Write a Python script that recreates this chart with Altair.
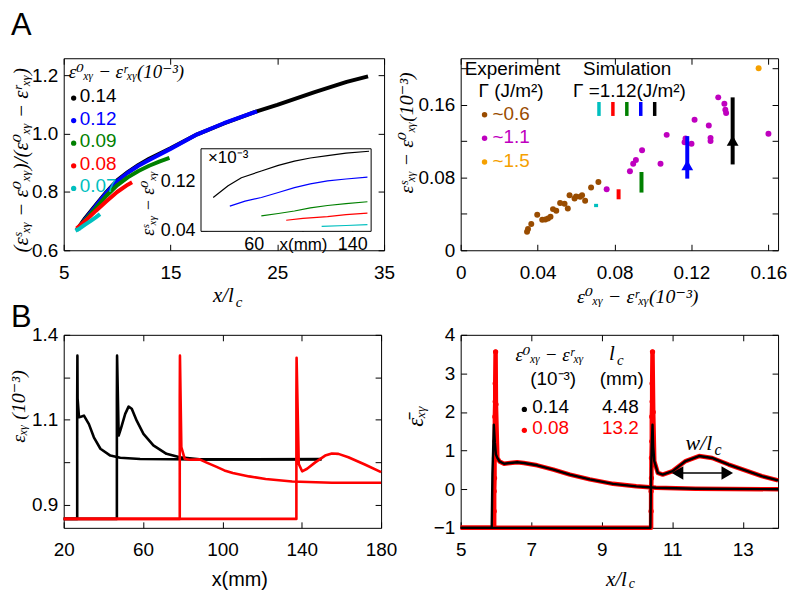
import altair as alt
import pandas as pd

SANS = "Liberation Sans"
MATH = "Liberation Serif, DejaVu Serif"
TICK = 19

BLACK, BLUE, GREEN, RED, CYAN = "#000000", "#0000FF", "#008000", "#FF0000", "#00BFBF"
BROWN, MAGENTA, ORANGE = "#994C00", "#BF00BF", "#F5A000"

# ================= Panel A (left): collapsed profiles =================
a_names = ["0.14", "0.12", "0.09", "0.08", "0.07"]
a_colors = [BLACK, BLUE, GREEN, RED, CYAN]
a_x_014 = [6.2, 7, 8, 9, 10, 11, 12, 13, 15, 17.5, 20, 23, 25, 28.5, 31.5, 33.5]
a_y_014 = [0.668, 0.71, 0.755, 0.8, 0.84, 0.868, 0.893, 0.914, 0.95, 0.998, 1.035, 1.076, 1.099, 1.143, 1.178, 1.197]
a_x_012 = [6.4, 7, 8, 9, 10, 11, 12, 13, 15, 17.5, 20, 23.1]
a_y_012 = [0.672, 0.706, 0.752, 0.797, 0.837, 0.866, 0.89, 0.91, 0.948, 0.998, 1.036, 1.077]
a_x_009 = [6.3, 7, 8, 9, 10, 11, 12, 13, 14, 14.9]
a_y_009 = [0.672, 0.703, 0.745, 0.787, 0.823, 0.85, 0.872, 0.89, 0.905, 0.917]
a_x_008 = [6.2, 7, 8, 9, 10, 11, 11.4]
a_y_008 = [0.675, 0.7, 0.735, 0.768, 0.8, 0.825, 0.833]
a_x_007 = [6.1, 6.5, 7, 7.5, 8, 8.4]
a_y_007 = [0.667, 0.675, 0.688, 0.7, 0.713, 0.724]

# inset: eps_S - eps_0 (1e-3) vs x (mm)
i_x_014 = [27.1, 39.2, 50, 66.2, 80, 93.1, 106, 120, 135, 153.7]
i_y_014 = [0.094, 0.113, 0.126, 0.137, 0.146, 0.153, 0.158, 0.162, 0.166, 0.169]
i_x_012 = [40.6, 53, 66.2, 80, 93.1, 106, 120, 135, 152.4]
i_y_012 = [0.080, 0.088, 0.094, 0.102, 0.110, 0.116, 0.121, 0.124, 0.127]
i_x_009 = [66.2, 80, 93.1, 106, 120, 135, 152.4]
i_y_009 = [0.064, 0.068, 0.072, 0.077, 0.081, 0.084, 0.087]
i_x_008 = [86.4, 100, 120, 135, 152.4]
i_y_008 = [0.057, 0.060, 0.063, 0.066, 0.0685]
i_x_007 = [115.2, 135, 152.4]
i_y_007 = [0.047, 0.0485, 0.050]

# ================= Panel A (right): experiment vs simulation =================
exp_brown_x = [0.0345, 0.035, 0.0367, 0.0398, 0.0424, 0.044, 0.0454, 0.0467, 0.048, 0.0497, 0.0517,
               0.054, 0.0557, 0.0566, 0.0592, 0.060, 0.0621, 0.0631, 0.0647, 0.0678, 0.0716]
exp_brown_y = [0.0204, 0.0233, 0.0288, 0.039, 0.0335, 0.0339, 0.035, 0.0368, 0.0452, 0.0434, 0.052,
               0.051, 0.0459, 0.0605, 0.0568, 0.059, 0.0587, 0.0605, 0.0543, 0.0689, 0.0751]
exp_mag_x = [0.0759, 0.088, 0.0897, 0.0911, 0.0943, 0.1039, 0.1071, 0.1164, 0.1169, 0.120, 0.1216,
             0.129, 0.1299, 0.1299, 0.1339, 0.1371, 0.1376, 0.138, 0.160]
exp_mag_y = [0.067, 0.0867, 0.0951, 0.0991, 0.110, 0.0951, 0.1268, 0.1188, 0.1227, 0.117, 0.1435,
             0.137, 0.1235, 0.120, 0.168, 0.161, 0.1544, 0.1508, 0.128]
exp_orange_x = [0.1549]
exp_orange_y = [0.200]
exp_labels = ["~0.6", "~1.1", "~1.5"]

sim_names = ["0.07", "0.08", "0.09", "0.12", "0.14"]
sim_colors = [CYAN, RED, GREEN, BLUE, BLACK]
sim_x = [0.0704, 0.0821, 0.094, 0.1178, 0.1414]
sim_lo = [0.0474, 0.056, 0.0634, 0.0787, 0.0943]
sim_hi = [0.051, 0.067, 0.086, 0.1254, 0.168]
arrow_names = ["0.12", "0.14"]
arrow_x = [0.1178, 0.1414]
arrow_y = [0.0935, 0.1205]

# ================= Panel B (left): strain profiles =================
b_k1_x = [20, 26.8, 26.8, 26.8, 26.9, 27.0, 27.7, 29, 30.2, 32.7, 35.2, 38.5, 43.5, 48.5, 58.5, 88.5, 150]
b_k1_y = [0.867, 0.867, 1.0, 1.15, 1.251, 1.15, 1.106, 1.108, 1.11, 1.09, 1.059, 1.032, 1.016, 1.011, 1.008, 1.007, 1.008]
b_k2_x = [20, 46.8, 46.8, 46.8, 46.9, 47.7, 48.8, 51, 52.7, 54.3, 56.8, 60.2, 65.2, 71.8, 78.5, 88.5, 150]
b_k2_y = [0.867, 0.867, 1.0, 1.15, 1.251, 1.063, 1.079, 1.114, 1.131, 1.126, 1.098, 1.067, 1.04, 1.02, 1.012, 1.007, 1.007]
b_r1_x = [20, 78.5, 78.5, 78.5, 78.6, 79.3, 81, 83.5, 88.5, 91.8, 96.8, 101, 105.2, 113.5, 121.8, 135.2, 155.2, 180]
b_r1_y = [0.867, 0.867, 1.0, 1.15, 1.251, 1.036, 1.008, 1.006, 1.007, 1.0, 0.99, 0.981, 0.975, 0.967, 0.961, 0.955, 0.952, 0.952]
b_r2_x = [20, 137.3, 137.3, 137.3, 137.4, 138.5, 140.2, 142.7, 146.8, 151.8, 155.2, 158.5, 163.5, 171.8, 180]
b_r2_y = [0.867, 0.867, 1.0, 1.15, 1.246, 0.996, 0.979, 0.985, 1.0, 1.016, 1.021, 1.02, 1.012, 0.995, 0.977]

# ================= Panel B (right): normalised profiles =================
n_r1_x = [5.0, 5.95, 5.95, 5.95, 5.96, 5.96, 5.97, 5.97, 5.98, 5.98, 5.99, 6.0, 6.04, 6.1, 6.23, 6.4,
          6.6, 6.79, 7.17, 7.63, 8.1, 8.66, 9.32, 9.98, 10.54, 11.66, 14.0]
n_r1_y = [-1, -1, -0.57, -0.05, 0.29, 0.81, 1.24, 1.88, 2.27, 2.74, 3.56, 2.2, 0.81, 0.72, 0.66, 0.68,
          0.70, 0.68, 0.62, 0.51, 0.38, 0.255, 0.14, 0.075, 0.04, 0.013, 0.0]
n_r2_x = [5.0, 10.4, 10.4, 10.4, 10.41, 10.41, 10.42, 10.42, 10.43, 10.43, 10.44, 10.46, 10.49, 10.59,
          10.73, 11.01, 11.38, 11.76, 12.13, 12.6, 13.07, 13.54, 14.0]
n_r2_y = [-1, -1, -0.57, -0.05, 0.29, 0.81, 1.24, 1.88, 2.27, 2.74, 3.56, 2.0, 0.73, 0.425,
          0.38, 0.47, 0.73, 0.86, 0.81, 0.64, 0.49, 0.34, 0.23]
n_k1_x = [5.0, 5.88, 5.89, 5.9, 5.92, 5.94, 5.97, 6.0, 6.04, 6.1, 6.23, 6.4, 6.6, 6.79, 7.17, 7.63,
          8.1, 8.66, 9.32, 9.98, 10.54, 11.66, 14.0]
n_k1_y = [-1, -1, -0.3, 0.4, 1.0, 1.67, 1.2, 0.9, 0.81, 0.72, 0.66, 0.68, 0.70, 0.68, 0.62, 0.51,
          0.38, 0.255, 0.14, 0.075, 0.04, 0.013, 0.0]
n_k2_x = [5.0, 10.38, 10.39, 10.4, 10.42, 10.44, 10.46, 10.49, 10.59, 10.73, 11.01, 11.38, 11.76,
          12.13, 12.6, 13.07, 13.54, 14.0]
n_k2_y = [-1, -1, -0.3, 0.5, 1.2, 1.67, 1.1, 0.73, 0.425, 0.38, 0.47, 0.73, 0.86, 0.81, 0.64, 0.49, 0.34, 0.23]
w_arrow_x = [11.15, 12.56]
w_arrow_y = 0.42
b_leg_rows = [("0.14", "4.48", BLACK), ("0.08", "13.2", RED)]


# ------------------------------------------------------------------ helpers
def sc(dom, rng=None):
    if rng is None:
        return alt.Scale(domain=dom, nice=False, zero=False)
    return alt.Scale(domain=dom, range=rng, nice=False, zero=False)


def ax(values, orient, labels=True, expr=None, fmt=None, pad=None, offset=None, size=TICK):
    if pad is None:
        pad = 19 if orient in ("bottom", "top") else 12
    kw = dict(values=values, orient=orient, grid=False, domain=False, ticks=True,
              tickSize={"expr": "-6"}, tickColor="black", tickWidth=1,
              labels=labels, labelFont=SANS, labelFontSize=size, labelColor="black",
              labelPadding=pad, labelFlush=False, labelOverlap=False, title=None)
    if expr:
        kw["labelExpr"] = expr
    if fmt:
        kw["format"] = fmt
    if offset is not None:
        kw["offset"] = offset
    return alt.Axis(**kw)


def line(xs, ys, color, width, xd, yd, xa, ya, xr=None, yr=None):
    df = pd.DataFrame({"x": xs, "y": ys, "o": list(range(len(xs)))})
    return alt.Chart(df).mark_line(color=color, strokeWidth=width, strokeJoin="round").encode(
        x=alt.X("x:Q", scale=sc(xd, xr), axis=xa),
        y=alt.Y("y:Q", scale=sc(yd, yr), axis=ya),
        order="o:Q")


def pts(xs, ys, color, size, xd, yd, xa, ya, filt=None):
    df = pd.DataFrame({"x": xs, "y": ys})
    c = alt.Chart(df)
    if filt:
        c = c.transform_filter(filt)
    return c.mark_circle(color=color, size=size, opacity=1).encode(
        x=alt.X("x:Q", scale=sc(xd), axis=xa),
        y=alt.Y("y:Q", scale=sc(yd), axis=ya))


def mirror(xd, yd, xv, yv):
    df = pd.DataFrame({"mx": [xd[0]], "my": [yd[0]]})
    return alt.Chart(df).mark_point(opacity=0).encode(
        x=alt.X("mx:Q", scale=sc(xd), axis=ax(xv, "top", labels=False)),
        y=alt.Y("my:Q", scale=sc(yd), axis=ax(yv, "right", labels=False)))


ONE = pd.DataFrame({"k": [0]})


def txt(s, x, y, size=19, color="black", font=SANS, align="left", baseline="middle", angle=None, italic=False):
    mk = dict(align=align, baseline=baseline, fontSize=size, color=color, font=font)
    if angle is not None:
        mk["angle"] = angle
    if italic:
        mk["fontStyle"] = "italic"
    return alt.Chart(pd.DataFrame({"t": [s]})).mark_text(**mk).encode(
        text="t:N", x=alt.value(x), y=alt.value(y))


def dot(x, y, color, size=30):
    return alt.Chart(ONE).mark_circle(color=color, size=size, opacity=1).encode(
        x=alt.value(x), y=alt.value(y))


def vbar(x, y1, y2, color, w=3.5):
    return alt.Chart(ONE).mark_rule(color=color, strokeWidth=w).encode(
        x=alt.value(x), y=alt.value(y1), y2=alt.value(y2))


# ------------------------------------------------------------------ panel A1
W1, W2, HA, HB = 322, 319, 193, 194
XA1, YA1 = [5, 35], [0.6, 1.259]
xa1 = ax([5, 15, 25, 35], "bottom")
ya1 = ax([0.6, 0.8, 1.0, 1.2], "left", fmt=".1f")
a_xs = [a_x_014, a_x_012, a_x_009, a_x_008, a_x_007]
a_ys = [a_y_014, a_y_012, a_y_009, a_y_008, a_y_007]
a1_main = alt.layer(*[line(x, y, c, 4, XA1, YA1, xa1, ya1) for x, y, c in zip(a_xs, a_ys, a_colors)])

IX, IY = [17.2, 155.4], [0.039, 0.173]
IXR, IYR = [138, 309], [174, 91]
ixa = ax([60, 100, 140], "bottom", expr="datum.value == 100 ? '' : datum.label",
         offset=-(HA - IYR[0]), pad=10, size=18)
iya = ax([0.04, 0.08, 0.12, 0.16], "left",
         expr="(round(datum.value*100) == 4 || round(datum.value*100) == 12) ? datum.label : ''",
         fmt=".2f", offset=-IXR[0], size=18)
i_xs = [i_x_014, i_x_012, i_x_009, i_x_008, i_x_007]
i_ys = [i_y_014, i_y_012, i_y_009, i_y_008, i_y_007]
inset = alt.layer(*[line(x, y, c, 1.2, IX, IY, ixa, iya, IXR, IYR) for x, y, c in zip(i_xs, i_ys, a_colors)])
inset_box = alt.Chart(ONE).mark_rect(fill="white", stroke="black", strokeWidth=1).encode(
    x=alt.value(IXR[0]), x2=alt.value(IXR[1]), y=alt.value(IYR[1]), y2=alt.value(IYR[0]))

a1_ann = [
    txt("A", -53, -47, size=31, baseline="top"),
    txt("(εˢₓᵧ − ε⁰ₓᵧ)/(ε⁰ₓᵧ − εʳₓᵧ)", -42, HA / 2 + 6, size=21, font=MATH, align="center", angle=270, italic=True),
    txt("x/l", 150, HA + 46, size=21, font=MATH, italic=True),
    txt("c", 173, HA + 52, size=15, font=MATH, italic=True),
    txt("ε⁰ₓᵧ − εʳₓᵧ(10⁻³)", 5, 14, size=19, font=MATH, italic=True),
    txt("×10⁻³", 145, 100, size=17),
    txt("x(mm)", 241, 188, size=17, align="center"),
    txt("εˢₓᵧ − ε⁰ₓᵧ", 86, 146, size=18, font=MATH, align="center", angle=270, italic=True),
]
for i, (nm, col) in enumerate(zip(a_names, a_colors)):
    yy = 38 + 22.7 * i
    a1_ann.append(dot(10, yy + 2, col, 28))
    a1_ann.append(txt(nm, 16, yy, size=19, color=col))

A1 = alt.layer(a1_main, mirror(XA1, YA1, [5, 15, 25, 35], [0.6, 0.8, 1.0, 1.2]),
               inset_box, inset, *a1_ann).resolve_scale(
    x="independent", y="independent").properties(width=W1, height=HA)

# ------------------------------------------------------------------ panel A2
XA2, YA2 = [0, 0.165], [0, 0.211]
xa2 = ax([0, 0.04, 0.08, 0.12, 0.16], "bottom", fmt="~g")
ya2 = ax([0, 0.04, 0.08, 0.12, 0.16, 0.2], "left", fmt="~g",
         expr="indexof([0, 8, 16], round(datum.value*100)) >= 0 ? datum.label : ''")
sim_df = pd.DataFrame({"s": sim_names, "x": sim_x, "lo": sim_lo, "hi": sim_hi})
sim_rules = alt.Chart(sim_df).mark_rule(strokeWidth=4).encode(
    x=alt.X("x:Q", scale=sc(XA2), axis=xa2),
    y=alt.Y("lo:Q", scale=sc(YA2), axis=ya2),
    y2="hi:Q",
    color=alt.Color("s:N", scale=alt.Scale(domain=sim_names, range=sim_colors), legend=None))
arr_df = pd.DataFrame({"s": arrow_names, "x": arrow_x, "y": arrow_y})
arr_heads = alt.Chart(arr_df).mark_point(shape="triangle-up", filled=True, size=140, opacity=1).encode(
    x=alt.X("x:Q", scale=sc(XA2), axis=xa2),
    y=alt.Y("y:Q", scale=sc(YA2), axis=ya2),
    color=alt.Color("s:N", scale=alt.Scale(domain=sim_names, range=sim_colors), legend=None))
a2_data = alt.layer(
    pts(exp_brown_x, exp_brown_y, BROWN, 36, XA2, YA2, xa2, ya2),
    pts(exp_mag_x, exp_mag_y, MAGENTA, 36, XA2, YA2, xa2, ya2),
    pts(exp_orange_x, exp_orange_y, ORANGE, 36, XA2, YA2, xa2, ya2),
    sim_rules, arr_heads)
a2_ann = [
    txt("Experiment", 4, 11, size=19),
    txt("Γ (J/m²)", 18, 33, size=19),
    txt("Simulation", 123, 11, size=19),
    txt("Γ =1.12(J/m²)", 113, 33, size=19),
    txt("εˢₓᵧ − ε⁰ₓᵧ(10⁻³)", -54, 75, size=20, font=MATH, align="center", angle=270, italic=True),
    txt("ε⁰ₓᵧ − εʳₓᵧ(10⁻³)", 178, HA + 47, size=20, font=MATH, align="center", italic=True),
]
for i, (lab, col) in enumerate(zip(exp_labels, [BROWN, MAGENTA, ORANGE])):
    yy = 55.7 + 23.8 * i
    a2_ann.append(dot(24, yy + 1, col, 30))
    a2_ann.append(txt(lab, 32, yy, size=19, color=col))
for i, col in enumerate(sim_colors):
    a2_ann.append(vbar(139 + 14 * i, 44, 58, col))

A2 = alt.layer(a2_data, mirror(XA2, YA2, [0, 0.04, 0.08, 0.12, 0.16], [0, 0.04, 0.08, 0.12, 0.16, 0.2]),
               *a2_ann).resolve_axis(x="independent", y="independent").properties(width=W2, height=HA)

# ------------------------------------------------------------------ panel B1
XB1, YB1 = [20, 180], [0.846, 1.3]
xb1 = ax([20, 60, 100, 140, 180], "bottom")
yb1 = ax([0.9, 1.0, 1.1, 1.2, 1.3], "left", fmt=".1f",
         expr="round(datum.value*10) == 13 ? '1.4' : ((round(datum.value*10) == 9 || round(datum.value*10) == 11) ? datum.label : '')")
b1_data = alt.layer(
    line(b_k1_x, b_k1_y, BLACK, 2.6, XB1, YB1, xb1, yb1),
    line(b_k2_x, b_k2_y, BLACK, 2.6, XB1, YB1, xb1, yb1),
    line(b_r1_x, b_r1_y, RED, 2.6, XB1, YB1, xb1, yb1),
    line(b_r2_x, b_r2_y, RED, 2.6, XB1, YB1, xb1, yb1))
b1_ann = [
    txt("B", -53, -32, size=31, baseline="top"),
    txt("εₓᵧ  (10⁻³)", -45, 72, size=20, font=MATH, align="center", angle=270, italic=True),
    txt("x(mm)", 177, HB + 52, size=20, align="center"),
]
B1 = alt.layer(b1_data, mirror(XB1, YB1, [20, 60, 100, 140, 180], [0.9, 1.0, 1.1, 1.2, 1.3]),
               *b1_ann).resolve_axis(x="independent", y="independent").properties(width=W2, height=HB)

# ------------------------------------------------------------------ panel B2
XB2, YB2 = [5, 14], [-1, 4]
xb2 = ax([5, 7, 9, 11, 13], "bottom")
yb2 = ax([-1, 0, 1, 2, 3, 4], "left")
spike = "datum.y > -0.99 && (datum.x < 6.02 || (datum.x > 10.35 && datum.x < 10.47))"
w_df = pd.DataFrame({"x": [w_arrow_x[0]], "x2": [w_arrow_x[1]], "y": [w_arrow_y]})
w_rule = alt.Chart(w_df).mark_rule(color="black", strokeWidth=1.5).encode(
    x=alt.X("x:Q", scale=sc(XB2), axis=xb2), x2="x2:Q", y=alt.Y("y:Q", scale=sc(YB2), axis=yb2))
head_df = pd.DataFrame({"x": w_arrow_x, "y": [w_arrow_y, w_arrow_y], "s": ["l", "r"]})
w_heads = alt.Chart(head_df).mark_point(filled=True, size=180, opacity=1, color="black").encode(
    x=alt.X("x:Q", scale=sc(XB2), axis=xb2),
    y=alt.Y("y:Q", scale=sc(YB2), axis=yb2),
    shape=alt.Shape("s:N", scale=alt.Scale(domain=["l", "r"], range=["triangle-left", "triangle-right"]), legend=None))
b2_data = alt.layer(
    line(n_r1_x, n_r1_y, RED, 4.5, XB2, YB2, xb2, yb2),
    line(n_r2_x, n_r2_y, RED, 4.5, XB2, YB2, xb2, yb2),
    pts(n_r1_x, n_r1_y, RED, 28, XB2, YB2, xb2, yb2, spike),
    pts(n_r2_x, n_r2_y, RED, 28, XB2, YB2, xb2, yb2, spike),
    line(n_k1_x, n_k1_y, BLACK, 2.4, XB2, YB2, xb2, yb2),
    line(n_k2_x, n_k2_y, BLACK, 2.4, XB2, YB2, xb2, yb2),
    w_rule, w_heads)
b2_ann = [
    txt("ε̄ₓᵧ", -45, 82, size=23, font=MATH, align="center", angle=270, italic=True),
    txt("x/l", 146, HB + 52, size=21, font=MATH, italic=True),
    txt("c", 169, HB + 56, size=14, font=MATH, italic=True),
    txt("ε⁰ₓᵧ − εʳₓᵧ", 55, 20, size=19, font=MATH, italic=True),
    txt("l", 149, 19, size=21, font=MATH, italic=True),
    txt("c", 157, 25, size=15, font=MATH, italic=True),
    txt("(10⁻³)", 93, 44, size=19, align="center"),
    txt("(mm)", 162, 44, size=19, align="center"),
    txt("w/l", 226, 109, size=22, font=MATH, italic=True),
    txt("c", 255, 116, size=16, font=MATH, italic=True),
]
for i, (v, lc, col) in enumerate(b_leg_rows):
    yy = 73 + 21 * i
    b2_ann.append(dot(64, yy + 2, col, 28))
    b2_ann.append(txt(v, 72, yy, size=19, color=col))
    b2_ann.append(txt(lc, 142, yy, size=19, color=col))

B2 = alt.layer(b2_data, mirror(XB2, YB2, [5, 7, 9, 11, 13], [-1, 0, 1, 2, 3, 4]),
               *b2_ann).resolve_axis(x="independent", y="independent").properties(width=W2, height=HB)

chart = alt.concat(A1, A2, B1, B2, columns=2, spacing={"row": 85, "column": 77}, bounds="flush").configure_view(
    stroke="black", strokeWidth=1).properties(
    padding={"left": 0, "top": 0, "right": 0, "bottom": 0}, background="white")

chart.save("out.html", embed_options={"renderer": "svg", "actions": False})
